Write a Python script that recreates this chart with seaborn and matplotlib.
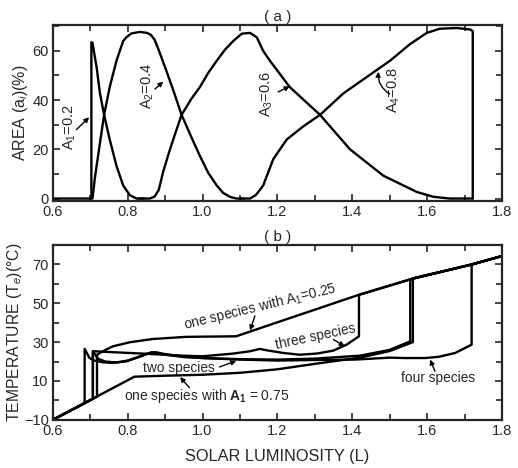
import matplotlib
matplotlib.use("Agg")
import matplotlib.pyplot as plt
import seaborn as sns
import pandas as pd
from matplotlib.ticker import MultipleLocator

# ---------------- data: panel (a) area of each species ----------------
a1_L = [0.6, 0.703, 0.703, 0.706, 0.717, 0.726, 0.737, 0.752, 0.770, 0.788, 0.806, 0.824, 0.845]
a1_v = [0, 0, 63.5, 63.3, 53.3, 42.7, 34, 24, 13.3, 5.3, 1.3, 0, 0]

a2_L = [0.703, 0.706, 0.712, 0.726, 0.737, 0.752, 0.770, 0.788, 0.797, 0.810, 0.833, 0.852,
        0.862, 0.872, 0.885, 0.900, 0.920, 0.944, 0.970, 0.993, 1.015, 1.038, 1.055, 1.073,
        1.09, 1.11]
a2_v = [0, 0, 8, 22.7, 34, 45.3, 56, 64, 65.6, 67.1, 67.7, 67.3,
        66.5, 64.5, 59.5, 53.3, 44.8, 34, 25, 17.3, 10.5, 5.3, 2.3, 0.7,
        0, 0]

a3_L = [0.83, 0.859, 0.872, 0.883, 0.895, 0.910, 0.925, 0.944, 0.970, 0.993, 1.015, 1.038,
        1.060, 1.082, 1.105, 1.127, 1.145, 1.162, 1.18, 1.233, 1.314, 1.394, 1.483, 1.572,
        1.617, 1.661, 1.722]
a3_v = [0, 0, 0.8, 3.5, 11, 18.5, 25.5, 34, 40.5, 45.3, 51, 56,
        60.5, 64, 67, 67.3, 65.5, 60, 56, 45.3, 34, 20, 9.3, 2.7,
        0.7, 0, 0]

a4_L = [1.1, 1.127, 1.143, 1.162, 1.189, 1.225, 1.269, 1.314, 1.376, 1.438, 1.501, 1.554,
        1.599, 1.634, 1.679, 1.715, 1.722, 1.722]
a4_v = [0, 0, 1.5, 5.3, 16, 24, 29.3, 34, 42.7, 49.3, 56, 62.7,
        67.3, 69, 69.3, 68.7, 68, 0]

# ---------------- data: panel (b) temperature ----------------
black_L = [0.6, 0.718, 0.718, 0.734, 0.760, 0.805, 0.867, 0.956, 1.0, 1.05, 1.09,
           1.2, 1.3, 1.42, 1.56, 1.72, 1.8]
black_T = [-10, 1.9, 23.5, 25.3, 27.8, 29.9, 31.6, 32.7, 32.8, 32.9, 33.0,
           40.2, 46.7, 54.5, 62.6, 70.0, 74.3]

white_L = [0.6, 0.818, 0.9, 1.0, 1.1, 1.2, 1.3, 1.42, 1.5, 1.562, 1.562, 1.72, 1.8]
white_T = [-10, 12.2, 12.7, 13.2, 14.2, 16.0, 18.8, 22.0, 25.4, 30.0, 62.9, 70.0, 74.3]

two_L = [0.6, 0.685, 0.685, 0.698, 0.711, 0.734, 0.760, 0.796, 0.823, 0.858, 0.875, 0.9,
         0.95, 1.0, 1.1, 1.2, 1.3, 1.42, 1.5, 1.555, 1.555, 1.72, 1.8]
two_T = [-10, -1.4, 26.5, 21.8, 20.5, 19.6, 19.3, 20.1, 21.8, 24.4, 24.8, 23.8,
         22.5, 21.8, 21.2, 21.0, 21.5, 23.0, 26.0, 30.4, 62.3, 70.0, 74.3]

three_L = [0.6, 0.707, 0.707, 0.75, 0.85, 0.95, 1.0, 1.082, 1.127, 1.153, 1.171, 1.216,
           1.26, 1.305, 1.349, 1.385, 1.412, 1.418, 1.418, 1.56, 1.72, 1.8]
three_T = [-10, 0.8, 25.3, 24.9, 24.0, 23.0, 22.7, 24.1, 25.3, 26.5, 25.8, 24.4,
           23.5, 24.1, 25.6, 28.7, 32.2, 33.0, 54.3, 62.6, 70.0, 74.3]

four_L = [0.6, 0.707, 0.707, 0.72, 0.74, 0.77, 0.80, 0.83, 0.865, 0.9, 0.95, 1.0, 1.1,
          1.2, 1.3, 1.407, 1.5, 1.541, 1.595, 1.63, 1.675, 1.719, 1.719, 1.8]
four_T = [-10, 0.8, 25.3, 21.5, 20.0, 19.5, 20.5, 22.5, 24.8, 23.5, 22.3, 21.8, 21.0,
          20.5, 20.8, 21.0, 22.0, 21.8, 21.8, 22.4, 24.4, 28.7, 70.0, 74.3]

x_ticks = [0.6, 0.8, 1.0, 1.2, 1.4, 1.6, 1.8]
x_tick_labels = ["0.6", "0.8", "1.0", "1.2", "1.4", "1.6", "1.8"]
ya_ticks = [0, 20, 40, 60]
yb_ticks = [-10, 10, 30, 50, 70]

# ---------------- style ----------------
sns.set_style("ticks")
plt.rcParams['font.family'] = ['Liberation Sans', 'DejaVu Sans']
plt.rcParams['mathtext.fontset'] = 'custom'
plt.rcParams['mathtext.rm'] = 'Liberation Sans'
plt.rcParams['mathtext.it'] = 'Liberation Sans:italic'
plt.rcParams['mathtext.bf'] = 'Liberation Sans:bold'

fig = plt.figure(figsize=(5.18, 4.68), dpi=100)
ax1 = fig.add_axes([0.102, 0.5705, 0.867, 0.376])
ax2 = fig.add_axes([0.102, 0.103, 0.867, 0.3735])

LW = 1.7
for L, v in [(a1_L, a1_v), (a2_L, a2_v), (a3_L, a3_v), (a4_L, a4_v)]:
    df = pd.DataFrame({"L": L, "v": v})
    sns.lineplot(data=df, x="L", y="v", sort=False, estimator=None, color="black",
                 lw=LW, ax=ax1)

for L, T in [(white_L, white_T), (two_L, two_T), (four_L, four_T),
             (three_L, three_T), (black_L, black_T)]:
    df = pd.DataFrame({"L": L, "T": T})
    sns.lineplot(data=df, x="L", y="T", sort=False, estimator=None, color="black",
                 lw=LW, ax=ax2)

for ax in (ax1, ax2):
    ax.set_xlim(0.6, 1.8)
    ax.set_xticks(x_ticks)
    ax.set_xticklabels(x_tick_labels)
    ax.xaxis.set_minor_locator(MultipleLocator(0.1))
    ax.yaxis.set_minor_locator(MultipleLocator(10))
    ax.tick_params(which="both", direction="in", top=True, right=True,
                   labelsize=10.5, width=1.2, pad=3)
    ax.tick_params(which="major", length=5)
    ax.tick_params(which="minor", length=4)
    for s in ax.spines.values():
        s.set_linewidth(1.6)
        s.set_visible(True)
    ax.set_xlabel("")

ax1.set_ylim(-1, 70.5)
ax1.set_yticks(ya_ticks)
ax1.set_ylabel("AREA (a$_i$)(%)", fontsize=11.5, labelpad=2)
ax2.set_ylim(-10, 80)
ax2.set_yticks(yb_ticks)
ax2.set_ylabel("TEMPERATURE (T$_e$)(°C)", fontsize=11.3, labelpad=0)
ax2.set_xlabel("SOLAR LUMINOSITY (L)", fontsize=11.8, labelpad=8)

ax1.set_title("( a )", fontsize=11, pad=3)
ax2.set_title("( b )", fontsize=11, pad=3)

# ---------------- annotations panel (a) ----------------
ap = dict(arrowstyle="-|>", color="black", lw=1.0, mutation_scale=7,
          shrinkA=0, shrinkB=0)
fsa = 10.5
ax1.text(0.645, 29, "A$_1$=0.2", rotation=90, ha="center", va="center", fontsize=fsa)
ax1.annotate("", xy=(0.697, 33), xytext=(0.663, 28), arrowprops=ap)
ax1.text(0.854, 46, "A$_2$=0.4", rotation=90, ha="center", va="center", fontsize=fsa)
ax1.annotate("", xy=(0.895, 47.5), xytext=(0.873, 44.5), arrowprops=ap)
ax1.text(1.171, 42.5, "A$_3$=0.6", rotation=90, ha="center", va="center", fontsize=fsa)
ax1.annotate("", xy=(1.233, 45.6), xytext=(1.202, 43.3), arrowprops=ap)
ax1.text(1.51, 44, "A$_4$=0.8", rotation=90, ha="center", va="center", fontsize=fsa)
ax1.annotate("", xy=(1.47, 51.5), xytext=(1.50, 42.5),
             arrowprops=dict(ap, connectionstyle="arc3,rad=-0.3"))

# ---------------- annotations panel (b) ----------------
fsb = 9.9
ax2.text(1.153, 48.0, "one species with A$_1$=0.25", rotation=13.7,
         ha="center", va="center", fontsize=fsb)
ax2.annotate("", xy=(1.127, 36.0), xytext=(1.14, 43.5), arrowprops=ap)
ax2.text(1.303, 32.8, "three species", rotation=12, ha="center", va="center", fontsize=fsb)
ax2.annotate("", xy=(1.38, 27.8), xytext=(1.35, 31.3), arrowprops=ap)
ax2.text(0.937, 16.6, "two species", ha="center", va="center", fontsize=fsb)
ax2.annotate("", xy=(1.09, 20.3), xytext=(1.045, 17.2), arrowprops=ap)
ax2.text(1.012, 2.0, r"one species with $\mathbf{A_1}$ = 0.75",
         ha="center", va="center", fontsize=fsb)
ax2.annotate("", xy=(0.94, 12.0), xytext=(0.965, 6.5), arrowprops=ap)
ax2.text(1.628, 11.5, "four species", ha="center", va="center", fontsize=fsb)
ax2.annotate("", xy=(1.608, 21.0), xytext=(1.621, 15.0), arrowprops=ap)

fig.savefig("out.png", dpi=100)
